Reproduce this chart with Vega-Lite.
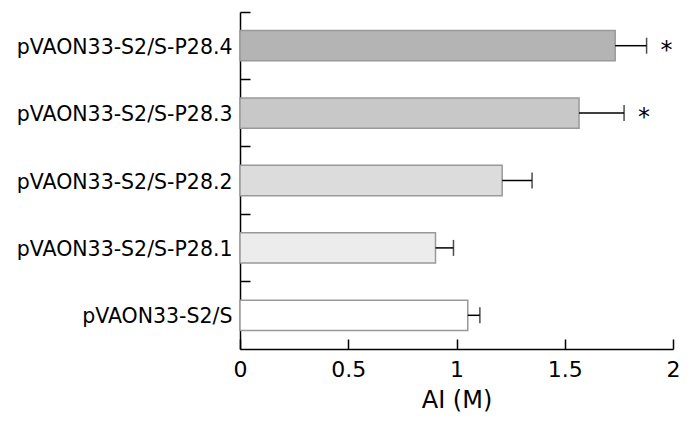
{
  "$schema": "https://vega.github.io/schema/vega-lite/v6.json",
  "width": 433,
  "height": 337,
  "autosize": {"type": "none"},
  "padding": {"left": 240, "top": 12, "right": 20, "bottom": 77},
  "background": "white",
  "config": {"view": {"stroke": null}, "font": "DejaVu Sans"},
  "data": {
    "values": [
      {"group": "pVAON33-S2/S-P28.4", "ai": 1.733, "hi": 1.878, "sig": "*", "shade": "#b4b4b4"},
      {"group": "pVAON33-S2/S-P28.3", "ai": 1.566, "hi": 1.774, "sig": "*", "shade": "#c8c8c8"},
      {"group": "pVAON33-S2/S-P28.2", "ai": 1.211, "hi": 1.349, "sig": "", "shade": "#dcdcdc"},
      {"group": "pVAON33-S2/S-P28.1", "ai": 0.903, "hi": 0.986, "sig": "", "shade": "#ececec"},
      {"group": "pVAON33-S2/S", "ai": 1.052, "hi": 1.108, "sig": "", "shade": "#ffffff"}
    ]
  },
  "encoding": {
    "y": {
      "field": "group",
      "type": "nominal",
      "sort": ["pVAON33-S2/S-P28.4", "pVAON33-S2/S-P28.3", "pVAON33-S2/S-P28.2", "pVAON33-S2/S-P28.1", "pVAON33-S2/S"],
      "scale": {"paddingInner": 0, "paddingOuter": 0},
      "axis": {
        "title": null,
        "bandPosition": 0,
        "labelOffset": 2,
        "tickSize": -10,
        "tickColor": "black",
        "tickWidth": 1.5,
        "domainColor": "black",
        "domainWidth": 1.5,
        "labelPadding": 18,
        "labelLimit": 0,
        "labelFontSize": 20.5,
        "labelColor": "black",
        "labelFont": "DejaVu Sans"
      }
    }
  },
  "layer": [
    {
      "mark": {"type": "bar", "height": {"band": 0.45}, "stroke": "#999999", "strokeWidth": 1.5},
      "encoding": {
        "x": {
          "field": "ai",
          "type": "quantitative",
          "scale": {"domain": [0, 2], "nice": false},
          "axis": {
            "title": "AI (M)",
            "values": [0, 0.5, 1, 1.5, 2],
            "format": "~g",
            "grid": false,
            "tickSize": -10,
            "tickColor": "black",
            "tickWidth": 1.5,
            "domainColor": "black",
            "domainWidth": 1.5,
            "labelPadding": 20,
            "labelFontSize": 22,
            "labelColor": "black",
            "labelFont": "DejaVu Sans",
            "labelFlush": false,
            "titleFontSize": 24,
            "titleFontWeight": "normal",
            "titleFont": "DejaVu Sans",
            "titleColor": "black",
            "titleBaseline": "alphabetic",
            "titleY": 58
          }
        },
        "fill": {"field": "shade", "type": "nominal", "scale": null}
      }
    },
    {
      "mark": {"type": "rule", "color": "black", "strokeWidth": 1.5},
      "encoding": {
        "x": {"field": "ai", "type": "quantitative"},
        "x2": {"field": "hi"}
      }
    },
    {
      "mark": {"type": "tick", "color": "black", "thickness": 1.5, "size": 16},
      "encoding": {
        "x": {"field": "hi", "type": "quantitative"}
      }
    },
    {
      "mark": {"type": "text", "fontSize": 24, "align": "center", "baseline": "alphabetic", "dx": 20, "dy": 12, "color": "black", "font": "DejaVu Sans"},
      "encoding": {
        "x": {"field": "hi", "type": "quantitative"},
        "text": {"field": "sig"}
      }
    }
  ]
}
